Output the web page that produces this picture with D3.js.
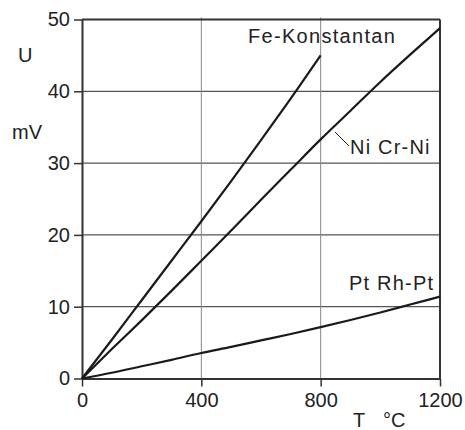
<!DOCTYPE html>
<html><head><meta charset="utf-8">
<script src="https://cdn.jsdelivr.net/npm/d3@7"></script>
<style>
html,body{margin:0;padding:0;background:#fff;}
svg{display:block;font-family:"Liberation Sans",Arial,sans-serif;}
</style></head>
<body>
<svg id="c" width="465" height="430"></svg>
<script>
const temps = [0, 100, 200, 300, 400, 500, 600, 700, 800, 900, 1000, 1100, 1200];
const feKonstantan = [0, 5.4, 10.9, 16.4, 21.9, 27.5, 33.2, 39.0, 45.0];
const niCrNi = [0, 4.1, 8.1, 12.2, 16.4, 20.6, 24.9, 29.1, 33.3, 37.3, 41.3, 45.1, 48.8];
const ptRhPt = [0, 0.8, 1.7, 2.6, 3.55, 4.4, 5.3, 6.2, 7.15, 8.15, 9.2, 10.3, 11.4];
const xTicks = [0, 400, 800, 1200];
const yTicks = [0, 10, 20, 30, 40, 50];

const svg = d3.select("#c");
const x = d3.scaleLinear().domain([0, 1200]).range([82, 440]);
const y = d3.scaleLinear().domain([0, 50]).range([378.5, 19.5]);

// grid
svg.append("g").selectAll("line").data(yTicks.filter(d => d > 0 && d < 50)).join("line")
  .attr("x1", x(0)).attr("x2", x(1200)).attr("y1", d => y(d)).attr("y2", d => y(d))
  .attr("stroke", "#555").attr("stroke-width", 1.3);
svg.append("g").selectAll("line").data(xTicks.filter(d => d > 0 && d < 1200)).join("line")
  .attr("x1", d => x(d)).attr("x2", d => x(d)).attr("y1", y(50) - 2).attr("y2", y(0))
  .attr("stroke", "#888").attr("stroke-width", 1);

// frame top/right
svg.append("line").attr("x1", x(0)).attr("x2", x(1200)).attr("y1", y(50)).attr("y2", y(50))
  .attr("stroke", "#333").attr("stroke-width", 2);
svg.append("line").attr("x1", x(1200)).attr("x2", x(1200)).attr("y1", y(50)).attr("y2", y(0))
  .attr("stroke", "#333").attr("stroke-width", 2);

// axes
const xAxis = svg.append("g").attr("transform", `translate(0,${y(0)})`)
  .call(d3.axisBottom(x).tickValues(xTicks).tickFormat(d3.format("d")).tickSize(8).tickPadding(6).tickSizeOuter(0));
const yAxis = svg.append("g").attr("transform", `translate(${x(0)},0)`)
  .call(d3.axisLeft(y).tickValues(yTicks).tickFormat(d3.format("d")).tickSize(8).tickPadding(4).tickSizeOuter(0));
[xAxis, yAxis].forEach(g => {
  g.attr("font-family", "'Liberation Sans',Arial,sans-serif");
  g.select(".domain").attr("stroke", "#333").attr("stroke-width", 2);
  g.selectAll(".tick line").attr("stroke", "#333").attr("stroke-width", 1.5);
  g.selectAll("text").attr("fill", "#222").attr("font-size", 20);
});
xAxis.selectAll("text").attr("dy", "0.71em");

// curves
const line = d3.line().x((d, i) => x(temps[i])).y(d => y(d)).curve(d3.curveMonotoneX);
[feKonstantan, niCrNi, ptRhPt].forEach(s => {
  svg.append("path").datum(s).attr("d", line).attr("fill", "none")
    .attr("stroke", "#1a1a1a").attr("stroke-width", 2.2).attr("stroke-linejoin", "round");
});

// labels
const lab = (t, px, py, opts = {}) => svg.append("text").text(t).attr("x", px).attr("y", py)
  .attr("font-size", 20).attr("fill", "#222")
  .attr("letter-spacing", opts.ls || 0).attr("text-anchor", opts.anchor || "start");
lab("Fe-Konstantan", 248, 43, {ls: 1.3});
lab("Ni Cr-Ni", 350, 154, {ls: 1.2});
lab("Pt Rh-Pt", 349, 290, {ls: 1.2});
lab("U", 18, 62);
lab("mV", 12, 139);
lab("T", 353, 427);
lab("°C", 383, 427);
// leader line
svg.append("line").attr("x1", 335).attr("y1", 132).attr("x2", 349).attr("y2", 146)
  .attr("stroke", "#222").attr("stroke-width", 1);
</script>
</body></html>
